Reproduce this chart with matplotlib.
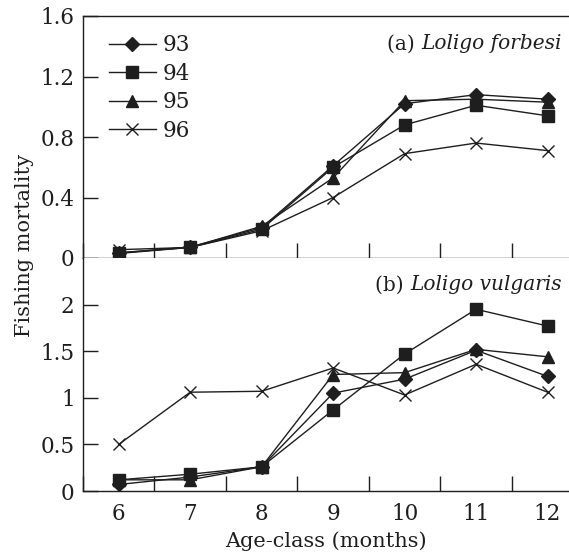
import numpy as np
import matplotlib.pyplot as plt
from matplotlib.ticker import FuncFormatter, MultipleLocator, FixedLocator

plt.rcParams['font.family'] = 'DejaVu Serif'

# age classes (months)
ages = [6, 7, 8, 9, 10, 11, 12]
years = ["93", "94", "95", "96"]
markers = {"93": "D", "94": "s", "95": "^", "96": "x"}

# (a) Loligo forbesi
forbesi_93 = [0.033, 0.073, 0.20, 0.61, 1.02, 1.08, 1.05]
forbesi_94 = [0.030, 0.070, 0.19, 0.60, 0.88, 1.01, 0.94]
forbesi_95 = [0.035, 0.070, 0.21, 0.53, 1.04, 1.05, 1.03]
forbesi_96 = [0.055, 0.070, 0.18, 0.40, 0.69, 0.76, 0.71]

# (b) Loligo vulgaris
vulgaris_93 = [0.07, 0.15, 0.26, 1.05, 1.20, 1.51, 1.23]
vulgaris_94 = [0.12, 0.18, 0.26, 0.87, 1.47, 1.95, 1.77]
vulgaris_95 = [0.12, 0.12, 0.26, 1.25, 1.27, 1.52, 1.44]
vulgaris_96 = [0.50, 1.06, 1.07, 1.32, 1.03, 1.36, 1.06]

yticks_a = [0, 0.4, 0.8, 1.2, 1.6]
yticks_b = [0, 0.5, 1, 1.5, 2]

forbesi = dict(zip(years, [forbesi_93, forbesi_94, forbesi_95, forbesi_96]))
vulgaris = dict(zip(years, [vulgaris_93, vulgaris_94, vulgaris_95, vulgaris_96]))

INK = "#1e1e1e"
W, H = 569, 553

fig = plt.figure(figsize=(W / 100, H / 100), dpi=100)
left = 83 / W
ax_a = fig.add_axes([left, 1 - 258 / H, 1 - left, (258 - 16) / H])
ax_b = fig.add_axes([left, 1 - 491 / H, 1 - left, (491 - 258) / H], sharex=ax_a)

fmt = FuncFormatter(lambda v, _: "%g" % round(v, 2))


def draw_panel(ax, data, ylim, yticks, title, species):
    for yr in years:
        ms = {"D": 7.5, "s": 8, "^": 8, "x": 8.5}[markers[yr]]
        ax.plot(ages, data[yr], color=INK, lw=1.0, marker=markers[yr],
                ms=ms, mew=1.0, mfc=INK, mec=INK, label=yr)
    ax.set_xlim(5.5, 12.3)
    ax.set_ylim(*ylim)
    ax.yaxis.set_major_locator(FixedLocator(yticks))
    ax.yaxis.set_major_formatter(fmt)
    ax.xaxis.set_major_locator(MultipleLocator(1))
    ax.xaxis.set_minor_locator(MultipleLocator(1, offset=0.5))
    ax.tick_params(axis="y", direction="in", length=11, width=1.0,
                   labelsize=15.5, pad=6, colors=INK)
    ax.tick_params(axis="x", which="major", length=0, labelsize=15.5, pad=9,
                   colors=INK)
    ax.tick_params(axis="x", which="minor", direction="in", length=11,
                   width=1.0, colors=INK)
    ax.spines["right"].set_visible(False)
    for s in ("left", "bottom", "top"):
        ax.spines[s].set_linewidth(1.0)
        ax.spines[s].set_color(INK)
    ax.text(0.985, 0.885, title + " ", transform=ax.transAxes,
            ha="right", va="center", fontsize=14.5, color=INK)
    ax.text(0.985, 0.885, species, transform=ax.transAxes,
            ha="left", va="center", fontsize=14.5, color=INK, style="italic")


draw_panel(ax_a, forbesi, (0, 1.6), yticks_a, "(a)", "Loligo forbesi")
draw_panel(ax_b, vulgaris, (0, 2.5), yticks_b, "(b)", "Loligo vulgaris")

# right-align the two-part panel titles
fig.canvas.draw()
renderer = fig.canvas.get_renderer()
for ax in (ax_a, ax_b):
    t_lab, t_sp = ax.texts
    sp_w = t_sp.get_window_extent(renderer).width
    x_right = ax.transAxes.transform((0.985, 0))[0]
    xr_ax = ax.transAxes.inverted().transform((x_right - sp_w, 0))[0]
    t_sp.set_x(xr_ax)
    t_lab.set_x(xr_ax)

ax_a.tick_params(axis="x", which="major", labelbottom=False)
ax_b.spines["top"].set_visible(False)

leg = ax_a.legend(loc="upper left", frameon=False, fontsize=15.5,
                  handlelength=2.2, handletextpad=0.3, labelspacing=0.3,
                  borderaxespad=0.0, bbox_to_anchor=(0.035, 0.96))
for t in leg.get_texts():
    t.set_color(INK)

ax_b.set_xlabel("Age-class (months)", fontsize=15, color=INK, labelpad=4)
fig.text(25 / W, 1 - 245 / H, "Fishing mortality", rotation=90,
         ha="center", va="center", fontsize=15, color=INK)

fig.savefig("out.png", dpi=100)
